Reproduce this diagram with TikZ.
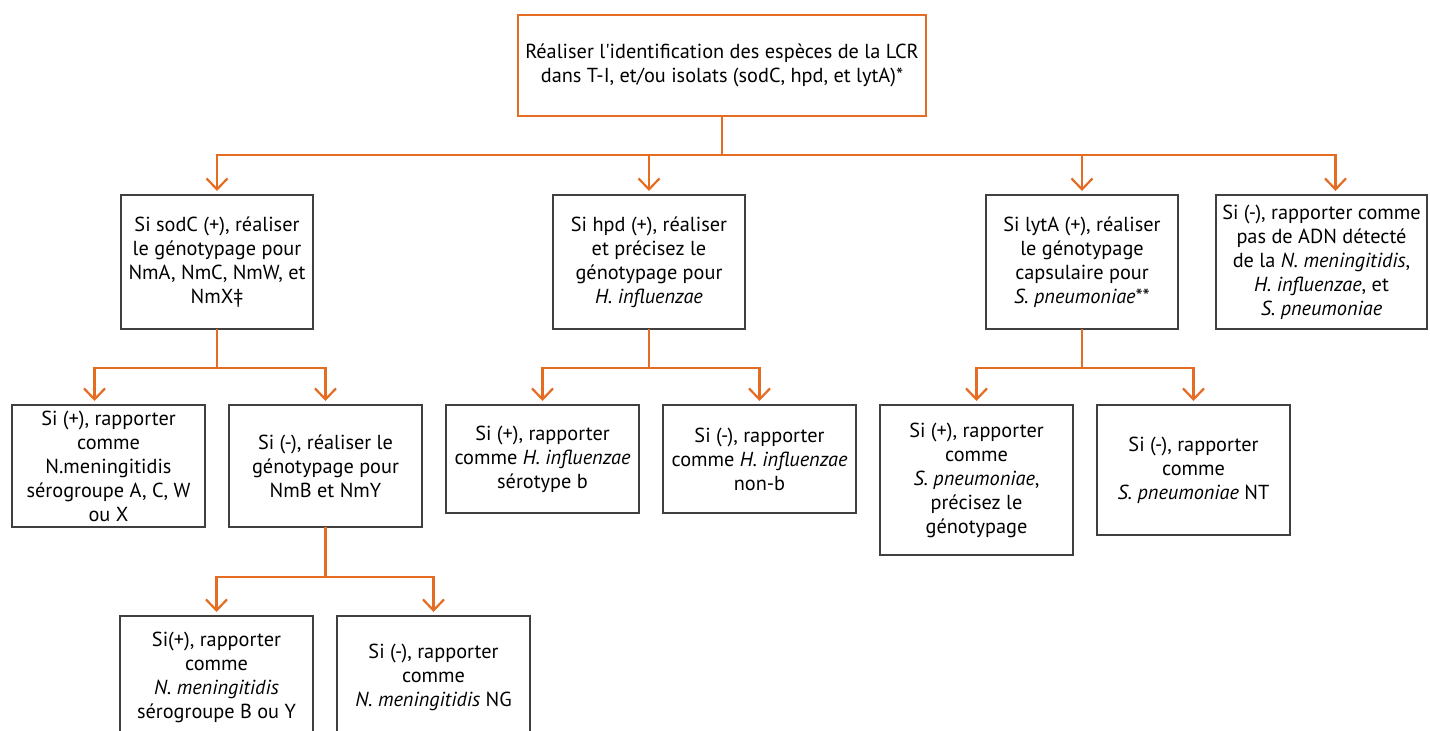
\documentclass[tikz,border=0pt]{standalone}
\usepackage{fontspec}
\setmainfont{PT Sans}
\usetikzlibrary{positioning,arrows.meta}
\definecolor{flow}{RGB}{228,108,35}
\definecolor{frame}{RGB}{64,64,64}

\begin{document}
\begin{tikzpicture}[x=1pt,y=1pt,>={Straight Barb[length=11pt,width=21pt]},
  main node/.style={rectangle,draw=frame,line width=1.3pt,align=center,minimum width=193pt,inner sep=0pt,outer sep=0pt,font=\fontsize{20.3}{24}\selectfont},
  top node/.style={main node,draw=flow,line width=2.4pt,minimum width=408pt,minimum height=101pt},
  flow line/.style={draw=flow,line width=2.2pt,shorten >=4pt,->},
  bus/.style={flow line,to path={(\tikztostart) -- ++(0pt,-#1) -| (\tikztotarget)}}]

\useasboundingbox (0,0) rectangle (1430,-731);

\node[top node] (0) at (722,-65.5) {R\'ealiser l\textquotesingle{}identification des esp\`eces de la LCR\\dans T-I, et/ou isolats (sodC, hpd, et lytA)*};

%level 1
\node[main node,minimum width=192pt,minimum height=134pt] (1) [below left=79pt and 205pt of 0] {Si sodC (+), r\'ealiser\\le g\'enotypage pour\\NmA, NmC, NmW, et\\NmX‡};
\node[main node,minimum width=192pt,minimum height=134pt] (2) [right=240pt of 1] {Si hpd (+), r\'ealiser\\et pr\'ecisez le\\g\'enotypage pour\\\textit{H. influenzae}};
\node[main node,minimum width=192pt,minimum height=134pt] (3) [right=241pt of 2] {Si lytA (+), r\'ealiser\\le g\'enotypage\\capsulaire pour\\\textit{S. pneumoniae}**};
\node[main node,minimum width=211pt,minimum height=134pt] (4) [right=38pt of 3] {Si (-), rapporter comme\\pas de ADN d\'etect\'e\\de la \textit{N. meningitidis},\\\textit{H. influenzae}, et\\\textit{S. pneumoniae}};

%level 2
\node[main node,minimum height=122pt] (5) [below=76pt of 1,xshift=-108.5pt] {Si (+), rapporter\\comme\\N.meningitidis\\s\'erogroupe A, C, W\\ou X};
\node[main node,minimum height=122pt] (6) [right=24pt of 5.north east,anchor=north west] {Si (-), r\'ealiser le\\g\'enotypage pour\\NmB et NmY};
\node[main node,minimum height=108pt] (7) [right=24pt of 6.north east,anchor=north west] {Si (+), rapporter\\comme \textit{H. influenzae}\\s\'erotype b};
\node[main node,minimum height=108pt] (8) [right=24pt of 7.north east,anchor=north west] {Si (-), rapporter\\comme \textit{H. influenzae}\\non-b};
\node[main node,minimum height=150pt] (9) [right=24pt of 8.north east,anchor=north west] {Si (+), rapporter\\comme\\\textit{S. pneumoniae},\\pr\'ecisez le\\g\'enotypage};
\node[main node,minimum height=130pt] (10) [right=24pt of 9.north east,anchor=north west] {Si (-), rapporter\\comme\\\textit{S. pneumoniae} NT};

%level 3
\node[main node,minimum height=122pt] (11) [below=89pt of 6,xshift=-109pt] {Si(+), rapporter\\comme\\\textit{N. meningitidis}\\s\'erogroupe B ou Y};
\node[main node,minimum height=122pt] (12) [right=24pt of 11] {Si (-), rapporter\\comme\\\textit{N. meningitidis} NG};

\coordinate (4in) at ([xshift=14pt]4.north);
\coordinate (5in) at ([xshift=-14pt]5.north);

%connectors
\path (0.south) edge[bus=39pt] (1.north) edge[bus=39pt] (2.north)
  edge[bus=39pt] (3.north) edge[bus=39pt] (4in);
\path (1.south) edge[bus=39pt] (5in) edge[bus=39pt] (6.north);
\path (2.south) edge[bus=39pt] (7.north) edge[bus=39pt] (8.north);
\path (3.south) edge[bus=39pt] (9.north) edge[bus=39pt] (10.north);
\path (6.south) edge[bus=50pt] (11.north) edge[bus=50pt] (12.north);

\end{tikzpicture}
\end{document}
